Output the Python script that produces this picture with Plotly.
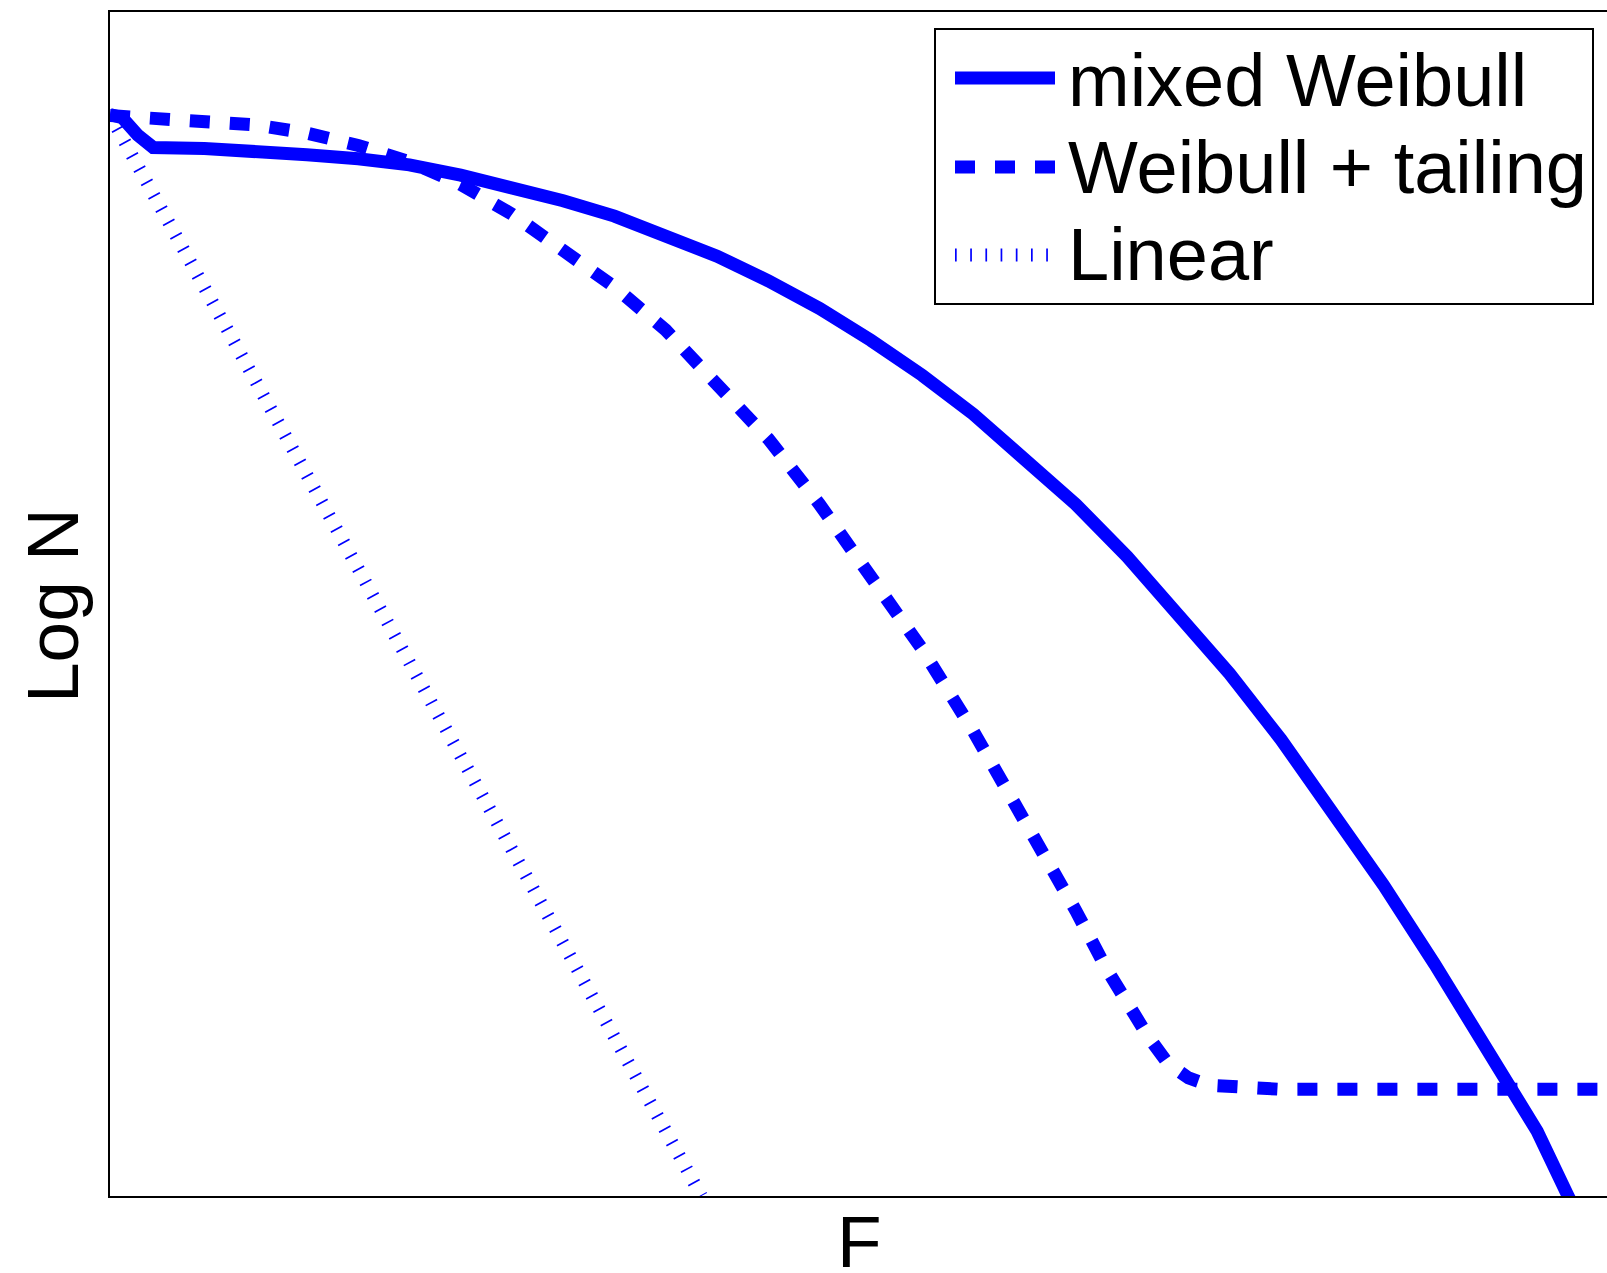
import plotly.graph_objects as go

# ---- data ----
mixed_F = [0.000, 0.082, 0.185, 0.288, 0.630, 0.973, 1.315, 1.658, 2.000, 2.342, 2.685,
           3.027, 3.370, 3.712, 4.055, 4.397, 4.740, 5.082, 5.425, 5.767, 6.110, 6.452,
           6.795, 7.137, 7.479, 7.822, 8.164, 8.507, 8.849, 9.192, 9.534, 9.740, 9.808]
mixed_logN = [9.133, 9.107, 8.960, 8.856, 8.847, 8.830, 8.795, 8.761, 8.709, 8.622, 8.527,
              8.406, 8.276, 8.120, 7.938, 7.730, 7.496, 7.227, 6.932, 6.603, 6.239, 5.841,
              5.399, 4.922, 4.411, 3.856, 3.258, 2.626, 1.958, 1.265, 0.546, 0.000, -0.173]

tail_F = [0.000, 0.288, 0.630, 0.973, 1.315, 1.658, 2.000, 2.342, 2.685, 3.027, 3.370,
          3.712, 4.055, 4.397, 4.740, 5.082, 5.425, 5.767, 6.110, 6.452, 6.658, 6.795,
          6.932, 7.068, 7.205, 7.342, 7.548, 7.822, 10.219]
tail_logN = [9.125, 9.099, 9.081, 9.047, 8.977, 8.873, 8.735, 8.544, 8.293, 7.998, 7.678,
             7.314, 6.872, 6.395, 5.841, 5.251, 4.619, 3.925, 3.189, 2.409, 1.915, 1.612,
             1.352, 1.118, 0.997, 0.936, 0.910, 0.901, 0.901]

linear_F = [0.00, 3.95]
linear_logN = [9.13, 0.00]

series_names = ["mixed Weibull", "Weibull + tailing", "Linear"]
x_title = "F"
y_title = "Log N"

BLUE = "#0000ff"
FONT = "Liberation Sans, Arial, Helvetica, sans-serif"

W, H = 1607, 1273
L, R, T, B = 110, 1607, 12, 1196  # plot area in pixels


def px(x):
    return (x - L) / (R - L)


def py(y):
    return (B - y) / (B - T)


styles = [
    dict(color=BLUE, width=13),
    dict(color=BLUE, width=13, dash="20px,20px"),
    dict(color=BLUE, width=13, dash="1.7px,13.5px"),
]

fig = go.Figure()
for xs, ys, name, st in zip([mixed_F, tail_F, linear_F],
                            [mixed_logN, tail_logN, linear_logN],
                            series_names, styles):
    fig.add_trace(go.Scatter(x=xs, y=ys, mode="lines", name=name, line=st,
                             showlegend=False))

# manual legend (MATLAB style)
shapes = [dict(type="rect", xref="paper", yref="paper",
               x0=px(935), x1=px(1593), y0=py(304), y1=py(29),
               line=dict(color="black", width=2), fillcolor="white", layer="above")]
annotations = []
sample_y = [78, 167, 255]
text_y = [80, 167, 254]
for name, st, sy, ty in zip(series_names, styles, sample_y, text_y):
    shapes.append(dict(type="line", xref="paper", yref="paper",
                       x0=px(955), x1=px(1055), y0=py(sy), y1=py(sy),
                       line=st, layer="above"))
    annotations.append(dict(text=name, xref="paper", yref="paper",
                            x=px(1066), y=py(ty), xanchor="left", yanchor="middle",
                            showarrow=False, font=dict(size=74, color="black", family=FONT)))

annotations.append(dict(text=x_title, xref="paper", yref="paper", x=px(859), y=py(1241),
                        xanchor="center", yanchor="middle", showarrow=False,
                        font=dict(size=73, color="black", family=FONT)))
annotations.append(dict(text=y_title, xref="paper", yref="paper", x=px(53), y=py(605),
                        xanchor="center", yanchor="middle", showarrow=False, textangle=-90,
                        font=dict(size=73, color="black", family=FONT)))

fig.update_layout(
    width=W, height=H,
    margin=dict(l=L, r=W - R, t=T, b=H - B, pad=0),
    paper_bgcolor="white", plot_bgcolor="white",
    xaxis=dict(range=[0, 10], showgrid=False, zeroline=False, showticklabels=False,
               ticks="", showline=True, mirror=True, linecolor="black", linewidth=2),
    yaxis=dict(range=[0, 10], showgrid=False, zeroline=False, showticklabels=False,
               ticks="", showline=True, mirror=False, linecolor="black", linewidth=2),
    shapes=shapes, annotations=annotations, showlegend=False,
)

fig.write_html("out.html",
               config={"displayModeBar": False},
               post_script="document.body.style.margin='0px';"
                           "document.body.style.overflow='hidden';")
